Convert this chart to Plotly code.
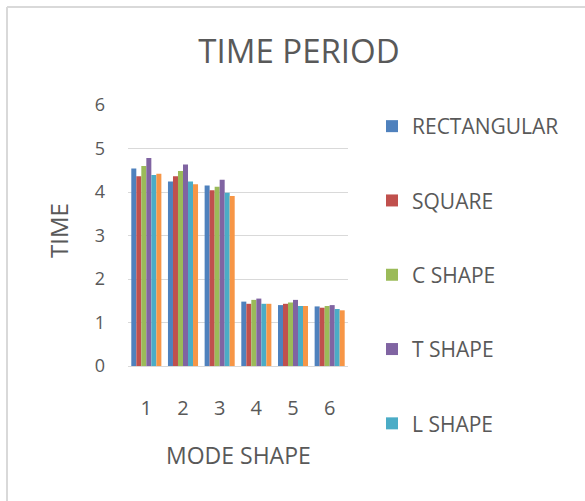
import plotly.graph_objects as go

categories = ["1", "2", "3", "4", "5", "6"]
series_names = ["RECTANGULAR", "SQUARE", "C SHAPE", "T SHAPE", "L SHAPE", "SERIES 6"]
rectangular = [4.54, 4.24, 4.15, 1.48, 1.40, 1.37]
square = [4.36, 4.36, 4.04, 1.43, 1.43, 1.34]
c_shape = [4.60, 4.48, 4.12, 1.52, 1.46, 1.38]
t_shape = [4.78, 4.63, 4.28, 1.55, 1.52, 1.40]
l_shape = [4.39, 4.24, 3.98, 1.43, 1.38, 1.31]
series_6 = [4.42, 4.18, 3.91, 1.43, 1.38, 1.28]
colors = ["#4F81BD", "#C0504D", "#9BBB59", "#8064A2", "#4BACC6", "#F79646"]

all_values = [rectangular, square, c_shape, t_shape, l_shape, series_6]

fig = go.Figure()
for i, (name, vals) in enumerate(zip(series_names, all_values)):
    fig.add_trace(go.Bar(
        x=categories, y=vals, name=name,
        marker=dict(color=colors[i], line=dict(width=0)),
        legendgroup=name,
        showlegend=(i < 5),
    ))

W, H = 585, 501
L, R, T, B = 128, 348, 105, 366  # plot area in pixels
pw, ph = R - L, B - T

font_family = "'Open Sans', Lato, sans-serif"
fig.update_layout(
    width=W, height=H,
    margin=dict(l=L, r=W - R, t=T, b=H - B, autoexpand=False),
    paper_bgcolor="white", plot_bgcolor="white",
    barmode="group", bargap=0.18, bargroupgap=0,
    font=dict(family=font_family, color="#595959"),
    title=dict(text="TIME PERIOD", x=299/W, xanchor="center", y=1-51/H, yanchor="middle",
               font=dict(size=33, color="#595959", family=font_family)),
    xaxis=dict(tickfont=dict(size=20), showgrid=False, showline=True,
               linecolor="#d9d9d9", linewidth=1, ticks="", fixedrange=True,
               ticklabelstandoff=24),
    yaxis=dict(range=[0, 6], dtick=1, tickfont=dict(size=18),
               showgrid=True, gridcolor="#d9d9d9", gridwidth=1,
               zeroline=False, showline=False, ticks="", ticklabelstandoff=22,
               fixedrange=True),
    legend=dict(x=(372-L)/pw, xanchor="left", y=1 - (106-T)/ph, yanchor="top",
                font=dict(size=21, color="#595959"), tracegroupgap=44,
                itemwidth=30, bgcolor="rgba(0,0,0,0)", maxheight=600),
    showlegend=True,
)

fig.add_annotation(text="MODE SHAPE", xref="paper", yref="paper",
                   x=(238.5-L)/pw, y=(B-455)/ph, xanchor="center", yanchor="middle",
                   showarrow=False, font=dict(size=23, color="#595959"))
fig.add_annotation(text="TIME", xref="paper", yref="paper", textangle=-90,
                   x=(58-L)/pw, y=(B-231)/ph, xanchor="center", yanchor="middle",
                   showarrow=False, font=dict(size=24, color="#595959"))

fig.add_shape(type="line", xref="paper", yref="paper",
              x0=(7-L)/pw, x1=(600-L)/pw, y0=(B-7)/ph, y1=(B-7)/ph,
              line=dict(color="#d9d9d9", width=2))
fig.add_shape(type="line", xref="paper", yref="paper",
              x0=(7-L)/pw, x1=(7-L)/pw, y0=(B-7)/ph, y1=(B-520)/ph,
              line=dict(color="#d9d9d9", width=2))

fig.write_html("out.html", config={"displayModeBar": False},
               post_script="document.body.style.margin='0px';")
